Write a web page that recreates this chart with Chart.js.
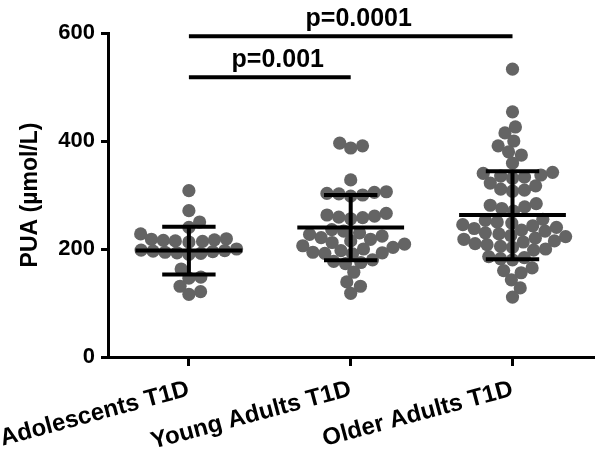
<!DOCTYPE html>
<html>
<head>
<meta charset="utf-8">
<script src="https://cdn.jsdelivr.net/npm/chart.js@4.4.1/dist/chart.umd.min.js"></script>
<style>
  html, body { margin: 0; padding: 0; background: #fff; }
</style>
</head>
<body>
<canvas id="chart" width="600" height="456"></canvas>
<script>
// group names (x axis)
const groups = ['Adolescents T1D', 'Young Adults T1D', 'Older Adults T1D'];

// individual PUA values, µmol/L
const adolescents = [308, 271, 250, 240, 228, 219, 218, 217, 216, 215, 214, 213,
  200, 198, 197, 196, 195, 194, 193, 192, 190, 163, 148, 146, 131, 121, 116];
const youngAdults = [396, 391, 387, 328, 306, 305, 303, 302, 300, 298,
  266, 263, 261, 259, 258, 256,
  236, 233, 230, 227, 224, 221, 218, 215, 212, 209, 206, 203, 200, 197, 194,
  193, 192, 191, 180, 177, 175, 173, 157, 139, 131, 118];
const olderAdults = [533, 454, 426, 415, 400, 391, 380, 374, 359,
  342, 340, 337, 335, 333, 331, 322, 317, 311, 309, 307,
  284, 281, 278, 275, 270,
  255, 253, 250, 248, 245, 243, 240, 238, 235, 233, 230, 228, 225, 223, 220, 218,
  215, 213, 210, 208, 205, 203, 200, 198,
  186, 184, 182, 180, 165, 160, 156, 143, 128, 111];

// mean and SD limits
const means = [197, 240, 263];
const sdLow = [153, 179, 181];
const sdHigh = [241, 300, 344];

// significance brackets
const sigPairs = [[0, 2], [0, 1]];
const sigLevels = [594, 518];
const sigLabels = ['p=0.0001', 'p=0.001'];

const yTicks = [0, 200, 400, 600];

const FONT = "'Liberation Sans', Arial, sans-serif";

// mean line, SD bars and the p-value brackets
const statsPlugin = {
  id: 'stats',
  afterDatasetsDraw(chart) {
    const { ctx, scales: { x, y } } = chart;
    const catW = x.getPixelForValue(1) - x.getPixelForValue(0);
    ctx.save();
    ctx.strokeStyle = '#000';
    ctx.lineWidth = 4;
    const seg = (x1, y1, x2, y2) => {
      ctx.beginPath();
      ctx.moveTo(x1, y1);
      ctx.lineTo(x2, y2);
      ctx.stroke();
    };
    means.forEach((m, i) => {
      const cx = x.getPixelForValue(i);
      const half = catW * 0.33, cap = catW * 0.165;
      const yl = y.getPixelForValue(sdLow[i]), yh = y.getPixelForValue(sdHigh[i]);
      seg(cx - half, y.getPixelForValue(m), cx + half, y.getPixelForValue(m));
      seg(cx, yl, cx, yh);
      seg(cx - cap, yl, cx + cap, yl);
      seg(cx - cap, yh, cx + cap, yh);
    });
    ctx.fillStyle = '#000';
    ctx.font = 'bold 25px ' + FONT;
    ctx.textAlign = 'center';
    ctx.textBaseline = 'alphabetic';
    sigPairs.forEach((p, k) => {
      const x1 = x.getPixelForValue(p[0]), x2 = x.getPixelForValue(p[1]);
      const by = y.getPixelForValue(sigLevels[k]);
      seg(x1, by, x2, by);
      ctx.fillText(sigLabels[k], (x1 + x2) / 2 + 8, by - 10);
    });
    ctx.restore();
  }
};

// simple beeswarm: push each dot sideways until it no longer overlaps
function swarm(values, center, xs, ys, diam) {
  const placed = [];
  const out = new Array(values.length);
  const cx = xs.getPixelForValue(center);
  const order = values.map((v, i) => i).sort((a, b) => values[a] - values[b]);
  order.forEach(i => {
    const py = ys.getPixelForValue(values[i]);
    const cands = [0];
    placed.forEach(p => {
      const dy = Math.abs(p.y - py);
      if (dy < diam) {
        const dx = Math.sqrt(diam * diam - dy * dy);
        cands.push(p.x + dx, p.x - dx);
      }
    });
    cands.sort((a, b) => Math.abs(a) - Math.abs(b));
    const ok = cands.find(c => placed.every(p => (p.x - c) ** 2 + (p.y - py) ** 2 >= diam * diam - 0.01));
    placed.push({ x: ok, y: py });
    out[i] = { x: xs.getValueForPixel(cx + ok), y: values[i] };
  });
  return out;
}

const series = [adolescents, youngAdults, olderAdults];

const ctx = document.getElementById('chart').getContext('2d');
const chart = new Chart(ctx, {
  type: 'scatter',
  data: {
    datasets: series.map((vals, i) => ({
      label: groups[i],
      data: vals.map(v => ({ x: i, y: v })),
      pointRadius: 6.6,
      pointBackgroundColor: '#646464',
      pointBorderWidth: 0,
      pointBorderColor: '#646464'
    }))
  },
  options: {
    responsive: false,
    animation: false,
    layout: { padding: { top: 33, left: 0, right: 0, bottom: 0 } },
    plugins: { legend: { display: false }, tooltip: { enabled: false } },
    scales: {
      x: {
        type: 'linear',
        min: -0.5,
        max: 2.5,
        afterBuildTicks: s => { s.ticks = groups.map((g, i) => ({ value: i })); },
        afterFit: s => { s.height = 99; s.paddingLeft = 0; s.paddingRight = 0; },
        ticks: {
          callback: v => groups[v],
          minRotation: 15,
          maxRotation: 15,
          autoSkip: false,
          color: '#000',
          padding: 9,
          font: { family: FONT, size: 24, weight: 'bold' }
        },
        grid: { drawOnChartArea: false, tickLength: 9, lineWidth: 3, color: '#000' },
        border: { width: 3, color: '#000' }
      },
      y: {
        min: 0,
        max: 600,
        afterBuildTicks: s => { s.ticks = yTicks.map(v => ({ value: v })); },
        afterFit: s => { s.width = 108; },
        ticks: {
          color: '#000',
          padding: 6,
          font: { family: FONT, size: 22, weight: 'bold' }
        },
        title: {
          display: true,
          text: 'PUA (µmol/L)',
          color: '#000',
          padding: { top: 17, bottom: 0 },
          font: { family: FONT, size: 23, weight: 'bold' }
        },
        grid: { drawOnChartArea: false, tickLength: 7, lineWidth: 3, color: '#000' },
        border: { width: 3, color: '#000' }
      }
    }
  },
  plugins: [statsPlugin]
});

// place the dots once the scales are known
chart.data.datasets.forEach((ds, i) => {
  ds.data = swarm(series[i], i, chart.scales.x, chart.scales.y, 12);
});
chart.update('none');
</script>
</body>
</html>
